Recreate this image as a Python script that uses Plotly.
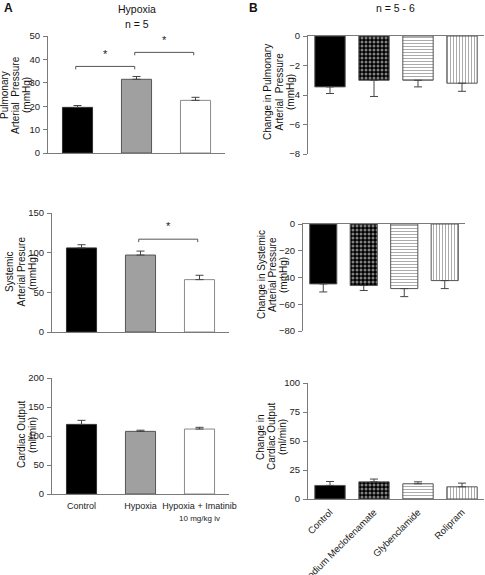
import plotly.graph_objects as go

# ---------------- data ----------------
a_categories = ["Control", "Hypoxia", "Hypoxia + Imatinib"]
a_tick_labels = ["Control", "Hypoxia",
                 "Hypoxia + Imatinib<br><span style='font-size:8px'>10 mg/kg iv</span>"]
a_pap = [19.5, 31.5, 22.5]
a_pap_err = [0.8, 1.2, 1.3]
a_sap = [106, 97, 66]
a_sap_err = [4, 5, 5.5]
a_co = [120, 108, 112]
a_co_err = [7, 2, 3]

b_categories = ["Control", "Sodium Meclofenamate", "Glybenclamide", "Rolipram"]
b_pap = [-3.45, -3.0, -3.0, -3.2]
b_pap_err = [0.45, 1.1, 0.45, 0.55]
b_sap = [-44.8, -46.0, -48.3, -42.3]
b_sap_err = [6.0, 3.7, 6.0, 6.0]
b_co = [11.7, 14.8, 13.1, 10.5]
b_co_err = [3.4, 2.4, 1.7, 3.2]

# significance brackets: (from idx, to idx, bracket height)
a_pap_sig = [(0, 1, 37), (1, 2, 43)]
a_sap_sig = [(1, 2, 117)]

# axis titles (one entry per line)
a_titles = [["Pulmonary", "Arterial  Pressure", "(mmHg)"],
            ["Systemic", "Arterial Presure", "(mmHg)"],
            ["Cardiac Output", "(ml/min)"]]
b_titles = [["Change in Pulmonary", "Arterial  Pressure", "(mmHg)"],
            ["Change in Systemic", "Arterial Pressure", "(mmHg)"],
            ["Change in", "Cardiac Output", "(ml/min)"]]

# ---------------- styling ----------------
W, H = 485, 575
FONT = "Liberation Sans, Arial, sans-serif"
AXC = "#7a7a7a"
EDGE = "#555555"

a_fill = ["#000000", "#a0a0a0", "#ffffff"]
a_edge = ["#333333", "#555555", "#8a8a8a"]
b_fill = ["#000000", "#000000", "#ffffff", "#ffffff"]
b_shape = ["", ".", "-", "|"]
b_fg = ["#000000", "#ffffff", "#666666", "#666666"]
b_solid = [0.5, 0.45, 0.3, 0.3]
b_size = [4, 4, 3, 3]


def px_dom_x(a, b):
    return [a / W, b / W]


def px_dom_y(top, bottom):
    return [1 - bottom / H, 1 - top / H]


fig = go.Figure()

panels = [
    dict(x="x", y="y", xd=px_dom_x(48, 225), yd=px_dom_y(36, 153), yr=[0, 50], dt=10,
         v=a_pap, e=a_pap_err, g="A", w=0.51, ticks=False),
    dict(x="x2", y="y2", xd=px_dom_x(52, 229), yd=px_dom_y(213, 332), yr=[0, 150], dt=50,
         v=a_sap, e=a_sap_err, g="A", w=0.51, ticks=False),
    dict(x="x3", y="y3", xd=px_dom_x(52, 229), yd=px_dom_y(378, 494), yr=[0, 200], dt=50,
         v=a_co, e=a_co_err, g="A", w=0.51, ticks=True),
    dict(x="x4", y="y4", xd=px_dom_x(308, 484), yd=px_dom_y(36, 154), yr=[-8, 0], dt=2,
         v=b_pap, e=b_pap_err, g="B", w=0.69, ticks=False),
    dict(x="x5", y="y5", xd=px_dom_x(303, 465), yd=px_dom_y(224, 331), yr=[-80, 0], dt=20,
         v=b_sap, e=b_sap_err, g="B", w=0.67, ticks=False),
    dict(x="x6", y="y6", xd=px_dom_x(308, 484), yd=px_dom_y(383, 499), yr=[0, 100], dt=25,
         v=b_co, e=b_co_err, g="B", w=0.69, ticks=True),
]

layout_axes = {}
for i, p in enumerate(panels):
    n = len(p["v"])
    xs = list(range(n))
    neg = p["yr"][1] <= 0
    if neg:
        err = dict(type="data", symmetric=False, array=[0] * n, arrayminus=p["e"])
    else:
        err = dict(type="data", symmetric=False, array=p["e"], arrayminus=[0] * n)
    err.update(color="#444444", thickness=1, width=4)
    if p["g"] == "A":
        marker = dict(color=a_fill, line=dict(color=a_edge, width=1))
    else:
        marker = dict(color=b_fill, line=dict(color=EDGE, width=1),
                      pattern=dict(shape=b_shape, fgcolor=b_fg, bgcolor=b_fill,
                                   solidity=b_solid, size=b_size, fillmode="overlay"))
    fig.add_trace(go.Bar(x=xs, y=p["v"], width=p["w"], marker=marker, error_y=err,
                         xaxis=p["x"], yaxis=p["y"], showlegend=False, hoverinfo="skip"))

    xk = "xaxis" if i == 0 else f"xaxis{i+1}"
    yk = "yaxis" if i == 0 else f"yaxis{i+1}"
    cats = a_tick_labels if p["g"] == "A" else b_categories
    xa = dict(domain=p["xd"], anchor=p["y"], range=[-0.5, n - 0.5], showgrid=False,
              zeroline=False, showline=True, linecolor=AXC, linewidth=1, ticks="",
              tickmode="array", tickvals=xs, ticktext=cats, automargin=False,
              showticklabels=p["ticks"], fixedrange=True, ticklabelstandoff=3,
              tickfont=dict(family=FONT, size=9, color="#222"))
    if neg:
        xa["side"] = "top"
    if p["g"] == "B" and p["ticks"]:
        xa["tickangle"] = -45
        xa["tickfont"] = dict(family=FONT, size=9.5, color="#222")
    else:
        xa["tickangle"] = 0
    ya = dict(domain=p["yd"], anchor=p["x"], range=p["yr"], dtick=p["dt"], showgrid=False,
              zeroline=False, showline=True, linecolor=AXC, linewidth=1, ticks="outside",
              ticklen=4, tickcolor=AXC, tickfont=dict(family=FONT, size=9.5, color="#222"),
              fixedrange=True, automargin=False, ticklabelstandoff=1)
    layout_axes[xk] = xa
    layout_axes[yk] = ya

fig.update_layout(**layout_axes)

# significance brackets + stars
shapes = []
annos = []
for sig, xr, yr, yrng in [(a_pap_sig, "x", "y", 50), (a_sap_sig, "x2", "y2", 150)]:
    d = yrng * 0.025
    for (i0, i1, h) in sig:
        x0, x1 = i0 - 0.03, i1 - 0.03
        shapes.append(dict(type="path", xref=xr, yref=yr,
                           path=f"M {x0},{h - d} L {x0},{h} L {x1},{h} L {x1},{h - d}",
                           line=dict(color="#555555", width=1)))
        annos.append(dict(x=(x0 + x1) / 2, y=h + yrng * 0.04, xref=xr, yref=yr, text="*",
                          showarrow=False, font=dict(family=FONT, size=11, color="#222"),
                          yanchor="bottom"))


def txt(x, y, t, size=10, bold=False, angle=0, anchor="center"):
    annos.append(dict(x=x / W, y=1 - y / H, xref="paper", yref="paper",
                      text=(f"<b>{t}</b>" if bold else t), showarrow=False,
                      textangle=angle, xanchor=anchor, yanchor="middle",
                      font=dict(family=FONT, size=size, color="#111")))


txt(8, 8, "A", size=12, bold=True)
txt(253, 8, "B", size=12, bold=True)
txt(137, 9, "Hypoxia", size=10.5)
txt(137, 24, "n = 5", size=10.5)
txt(395, 8, "n = 5 - 6", size=10.5)

# rotated axis titles, each line placed separately (first x, line step, centre y)
title_pos_a = [(5, 11, 95), (9, 11.5, 272), (21, 11, 435)]
title_pos_b = [(267, 11.5, 92), (261, 11, 275), (260, 11, 437)]
for lines, (x0, step, yc) in zip(a_titles + b_titles, title_pos_a + title_pos_b):
    for k, line in enumerate(lines):
        txt(x0 + k * step, yc, line, size=10, angle=-90)

fig.update_layout(width=W, height=H, margin=dict(l=0, r=0, t=0, b=0),
                  paper_bgcolor="white", plot_bgcolor="white",
                  shapes=shapes, annotations=annos, bargap=0.3,
                  font=dict(family=FONT))

fig.write_html("out.html", config={"displayModeBar": False},
               post_script="document.body.style.margin='0px';document.body.style.overflow='hidden';")
